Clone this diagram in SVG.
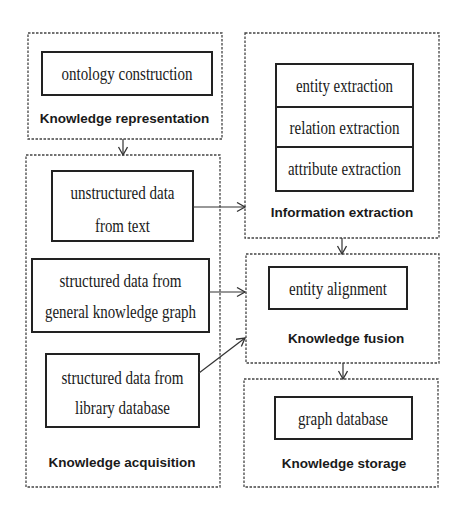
<svg xmlns="http://www.w3.org/2000/svg" width="461" height="514" viewBox="0 0 461 514">
<style>
.grp{fill:none;stroke:#444;stroke-width:1.3;stroke-dasharray:2.5 1.5}
.box{fill:#fff;stroke:#222;stroke-width:2}
.t{font-family:"Liberation Serif","Times New Roman",serif;font-size:18px;fill:#1a1a1a;text-anchor:middle}
.h{font-family:"Liberation Sans",Arial,sans-serif;font-size:13.5px;font-weight:bold;fill:#1a1a1a;text-anchor:middle}
.c{fill:none;stroke:#333;stroke-width:1.2}
</style>
<defs>
<marker id="arr" markerUnits="userSpaceOnUse" markerWidth="12" markerHeight="12" refX="9" refY="5" orient="auto">
<path d="M1,0.5 L9,5 L1,9.5" fill="none" stroke="#333" stroke-width="1.3"/>
</marker>
</defs>
<rect width="461" height="514" fill="#fff"/>
<g id="knowledge-representation">
<rect class="grp" x="28" y="33" width="194" height="106"/>
<rect class="box" x="42" y="52" width="170" height="43"/>
<text class="t" x="127" y="80" textLength="131" lengthAdjust="spacingAndGlyphs">ontology construction</text>
<text class="h" x="124.5" y="123">Knowledge representation</text>
</g>
<g id="knowledge-acquisition">
<rect class="grp" x="26" y="155" width="194" height="332"/>
<rect class="box" x="52" y="171" width="141" height="70"/>
<text class="t" x="122.5" y="199" textLength="104" lengthAdjust="spacingAndGlyphs">unstructured data</text>
<text class="t" x="122.5" y="232" textLength="55" lengthAdjust="spacingAndGlyphs">from text</text>
<rect class="box" x="32" y="259" width="177" height="73"/>
<text class="t" x="120.5" y="287" textLength="122" lengthAdjust="spacingAndGlyphs">structured data from</text>
<text class="t" x="120.5" y="318" textLength="151" lengthAdjust="spacingAndGlyphs">general knowledge graph</text>
<rect class="box" x="46" y="354" width="153" height="73"/>
<text class="t" x="122.5" y="384" textLength="122" lengthAdjust="spacingAndGlyphs">structured data from</text>
<text class="t" x="122.5" y="414" textLength="95" lengthAdjust="spacingAndGlyphs">library database</text>
<text class="h" x="122" y="467">Knowledge acquisition</text>
</g>
<g id="information-extraction">
<rect class="grp" x="245" y="33" width="194" height="205"/>
<rect class="box" x="276" y="64" width="137" height="43"/>
<text class="t" x="344.5" y="92" textLength="97" lengthAdjust="spacingAndGlyphs">entity extraction</text>
<rect class="box" x="276" y="107" width="137" height="40"/>
<text class="t" x="344.5" y="134" textLength="110" lengthAdjust="spacingAndGlyphs">relation extraction</text>
<rect class="box" x="276" y="147" width="137" height="44"/>
<text class="t" x="344.5" y="175" textLength="113" lengthAdjust="spacingAndGlyphs">attribute extraction</text>
<text class="h" x="342" y="217">Information extraction</text>
</g>
<g id="knowledge-fusion">
<rect class="grp" x="246" y="254" width="193" height="109"/>
<rect class="box" x="269" y="267" width="138" height="42"/>
<text class="t" x="338" y="295" textLength="98" lengthAdjust="spacingAndGlyphs">entity alignment</text>
<text class="h" x="346" y="343">Knowledge fusion</text>
</g>
<g id="knowledge-storage">
<rect class="grp" x="244" y="379" width="194" height="108"/>
<rect class="box" x="275" y="397" width="137" height="42"/>
<text class="t" x="343" y="425" textLength="90" lengthAdjust="spacingAndGlyphs">graph database</text>
<text class="h" x="344" y="468">Knowledge storage</text>
</g>
<g id="connectors">
<line class="c" x1="123" y1="139" x2="123" y2="155" marker-end="url(#arr)"/>
<line class="c" x1="193" y1="207" x2="245" y2="207" marker-end="url(#arr)"/>
<line class="c" x1="209" y1="292" x2="245" y2="292" marker-end="url(#arr)"/>
<line class="c" x1="199" y1="373" x2="245" y2="338" marker-end="url(#arr)"/>
<line class="c" x1="342" y1="238" x2="342" y2="254" marker-end="url(#arr)"/>
<line class="c" x1="343" y1="363" x2="343" y2="379" marker-end="url(#arr)"/>
</g>
</svg>
